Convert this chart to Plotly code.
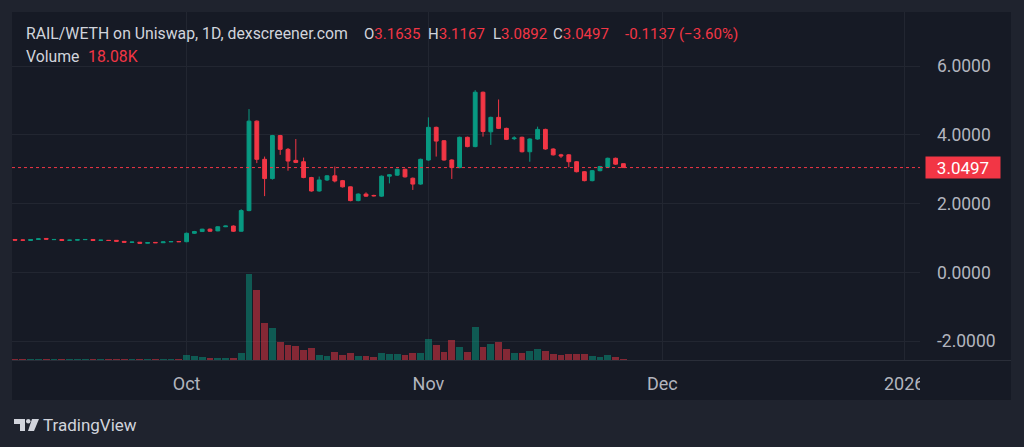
import pandas as pd
import plotly.graph_objects as go

# ---------------- data ----------------
start_date = "2025-09-09"
opens = [0.96, 0.945, 0.93, 0.96, 0.99, 0.955, 0.96, 0.935, 0.94, 0.955, 0.96, 0.935, 0.935, 0.935, 0.905,
         0.875, 0.88, 0.85, 0.875, 0.865, 0.89, 0.90, 0.895, 1.14, 1.19, 1.26, 1.21, 1.33, 1.35, 1.20,
         1.80, 4.40, 3.29, 2.73, 3.98, 3.58, 3.26, 3.22, 2.76, 2.37, 2.69, 2.81, 2.67, 2.49, 2.09,
         2.28, 2.24, 2.22, 2.80, 2.83, 3.00, 2.74, 2.57, 3.27, 4.22, 3.83, 3.27, 3.05, 3.93, 3.66,
         5.24, 4.09, 4.51, 4.19, 3.89, 3.93, 3.51, 3.88, 4.16, 3.59, 3.42, 3.42, 3.22, 2.93, 2.67,
         2.96, 3.06, 3.32, 3.1635]
highs = [0.97, 0.955, 0.97, 0.99, 1.00, 0.975, 0.97, 0.95, 0.96, 0.965, 0.97, 0.945, 0.94, 0.945, 0.91,
         0.89, 0.885, 0.88, 0.885, 0.895, 0.905, 0.91, 1.16, 1.21, 1.27, 1.28, 1.34, 1.36, 1.37, 1.84,
         4.75, 4.42, 3.37, 4.00, 4.00, 3.62, 3.88, 3.34, 2.78, 2.79, 2.83, 3.08, 2.69, 2.50, 2.30,
         2.33, 2.26, 2.82, 2.86, 3.02, 3.02, 2.76, 3.31, 4.51, 4.24, 3.85, 3.29, 3.95, 3.95, 5.30,
         5.26, 4.53, 5.03, 4.21, 3.96, 3.95, 3.90, 4.24, 4.18, 3.61, 3.45, 3.44, 3.24, 2.95, 2.98,
         3.10, 3.34, 3.34, 3.1635]
lows = [0.93, 0.93, 0.925, 0.95, 0.96, 0.95, 0.92, 0.93, 0.935, 0.945, 0.92, 0.925, 0.92, 0.90, 0.87,
        0.865, 0.84, 0.845, 0.86, 0.86, 0.885, 0.89, 0.88, 1.12, 1.18, 1.18, 1.20, 1.32, 1.18, 1.19,
        1.78, 3.18, 2.22, 2.70, 3.42, 2.96, 3.18, 2.74, 2.35, 2.35, 2.66, 2.62, 2.47, 2.07, 2.07,
        2.20, 2.21, 2.20, 2.59, 2.81, 2.76, 2.40, 2.55, 3.25, 3.37, 3.25, 2.72, 3.03, 3.64, 3.64,
        3.95, 3.71, 4.17, 3.85, 3.85, 3.49, 3.22, 3.86, 3.57, 3.40, 3.33, 3.06, 2.91, 2.65, 2.65,
        2.94, 3.04, 3.13, 3.0497]
closes = [0.94, 0.94, 0.96, 0.98, 0.97, 0.96, 0.93, 0.94, 0.955, 0.96, 0.93, 0.94, 0.93, 0.91, 0.88,
          0.885, 0.85, 0.87, 0.865, 0.89, 0.90, 0.895, 1.14, 1.19, 1.26, 1.20, 1.33, 1.35, 1.20, 1.80,
          4.40, 3.29, 2.73, 3.98, 3.58, 3.24, 3.20, 2.76, 2.37, 2.69, 2.81, 2.66, 2.49, 2.09, 2.28,
          2.22, 2.23, 2.80, 2.84, 3.00, 2.78, 2.57, 3.29, 4.22, 3.82, 3.27, 3.05, 3.93, 3.66, 5.24,
          4.10, 4.51, 4.19, 3.87, 3.91, 3.51, 3.88, 4.16, 3.59, 3.42, 3.39, 3.22, 2.93, 2.67, 2.96,
          3.08, 3.32, 3.15, 3.0497]
volumes_k = [14, 12, 15, 13, 16, 12, 14, 11, 13, 12, 15, 12, 11, 14, 13, 12, 14, 11, 13, 12, 14, 13,
             68, 50, 36, 27, 27, 27, 27, 95, 1180, 963, 502, 443, 249, 203, 194, 140, 167, 68, 59,
             108, 68, 95, 59, 50, 41, 95, 86, 77, 68, 95, 95, 294, 203, 104, 271, 185, 108, 457,
             185, 221, 249, 149, 95, 95, 122, 154, 118, 81, 68, 81, 81, 81, 50, 41, 63, 45, 18.08]

price_ticks = [-2, 0, 2, 4, 6]
price_tick_labels = ["-2.0000", "0.0000", "2.0000", "4.0000", "6.0000"]
time_ticks = ["2025-10-01", "2025-11-01", "2025-12-01", "2026-01-01"]
time_tick_labels = ["Oct", "Nov", "Dec", "2026"]

title_text = "RAIL/WETH on Uniswap, 1D, dexscreener.com"
ohlc_labels = [("O", "3.1635"), ("H", "3.1167"), ("L", "3.0892"), ("C", "3.0497")]
change_text = "-0.1137 (\u22123.60%)"
volume_label = "Volume"
volume_value = "18.08K"
last_price = 3.0497
last_price_text = "3.0497"

# ---------------- styling ----------------
UP = "#089981"
DOWN = "#f23645"
UP_VOL = "rgba(8,153,129,0.5)"
DOWN_VOL = "rgba(242,54,69,0.5)"
PANEL = "#161a25"
OUTER = "#1f232e"
GRID = "#222631"
TEXT = "#d1d4dc"
AXIS_TEXT = "#b2b5be"
FONT = "Roboto, 'Noto Sans', sans-serif"

W, H = 1024, 447
PL, PR, PT, PB = 12, 920, 12, 360  # plot area in pixels


def px_x(px):
    return (px - PL) / (PR - PL)


def px_y(py):
    return (PB - py) / (PB - PT)


dates = pd.date_range(start_date, periods=len(opens), freq="D")
vol_colors = [UP_VOL if c >= o else DOWN_VOL for o, c in zip(opens, closes)]

fig = go.Figure()

fig.add_trace(go.Bar(
    x=dates, y=volumes_k, yaxis="y2",
    marker=dict(color=vol_colors, line=dict(width=0)),
    width=86400000 * 0.86, hoverinfo="skip", showlegend=False,
))

fig.add_trace(go.Candlestick(
    x=dates, open=opens, high=highs, low=lows, close=closes,
    increasing=dict(line=dict(color=UP, width=1), fillcolor=UP),
    decreasing=dict(line=dict(color=DOWN, width=1), fillcolor=DOWN),
    whiskerwidth=0, showlegend=False, hoverinfo="skip",
))

day = pd.Timedelta(days=1)
x_left = dates[0] - day * (3 / 7.8)
x_right = dates[0] + day * ((PR - 15) / 7.8)
y_top = (272.5 - PT) / 34.4
y_bot = (272.5 - PB) / 34.4

vmax = max(volumes_k)
v_range_top = vmax * (PB - PT) / 86.0

shapes = [
    dict(type="rect", xref="paper", yref="paper", layer="below",
         x0=px_x(PL), x1=px_x(1011), y0=px_y(400), y1=px_y(PT),
         fillcolor=PANEL, line=dict(width=0)),
    dict(type="line", xref="paper", yref="paper", layer="above",
         x0=px_x(PL), x1=px_x(1011), y0=px_y(360.5), y1=px_y(360.5),
         line=dict(color="#2a2e39", width=1)),
    dict(type="line", xref="paper", yref="y", layer="above",
         x0=0, x1=1, y0=last_price, y1=last_price,
         line=dict(color=DOWN, width=1, dash="dot")),
    dict(type="rect", xref="paper", yref="paper", layer="above",
         x0=px_x(PR), x1=px_x(1011), y0=px_y(399.5), y1=px_y(361.5),
         fillcolor=PANEL, line=dict(width=0)),
]

# TradingView logo (simple glyph)
lx, ly = 14, 419
logo_paths = [
    f"M{px_x(lx)},{px_y(ly)} L{px_x(lx+11)},{px_y(ly)} L{px_x(lx+11)},{px_y(ly+12)} "
    f"L{px_x(lx+6)},{px_y(ly+12)} L{px_x(lx+6)},{px_y(ly+5)} L{px_x(lx)},{px_y(ly+5)} Z",
    f"M{px_x(lx+18)},{px_y(ly)} L{px_x(lx+25)},{px_y(ly)} L{px_x(lx+20)},{px_y(ly+12)} "
    f"L{px_x(lx+14)},{px_y(ly+12)} Z",
]
for p in logo_paths:
    shapes.append(dict(type="path", xref="paper", yref="paper", layer="above", path=p,
                       fillcolor=TEXT, line=dict(width=0)))
shapes.append(dict(type="circle", xref="paper", yref="paper", layer="above",
                   x0=px_x(lx + 12), x1=px_x(lx + 16.5), y0=px_y(ly + 4.5), y1=px_y(ly),
                   fillcolor=TEXT, line=dict(width=0)))

annotations = []


def txt(text, px, py, color=TEXT, size=15.8, xanchor="left"):
    annotations.append(dict(text=text, x=px_x(px), y=px_y(py), xref="paper", yref="paper",
                            xanchor=xanchor, yanchor="middle", showarrow=False,
                            font=dict(family=FONT, size=size, color=color)))


txt(title_text, 24, 34)
ohlc_x = [362, 426, 491, 551]
for (lab, val), xx in zip(ohlc_labels, ohlc_x):
    txt(f"{lab}<span style='color:{DOWN}'>{val}</span>", xx, 34, size=15)
txt(change_text, 623, 34, color=DOWN, size=15)
txt(volume_label, 24, 57)
txt(volume_value, 86, 57, color=DOWN)
txt("TradingView", 41, 425, color=TEXT, size=17)

annotations.append(dict(
    text=last_price_text, x=px_x(925), y=last_price, xref="paper", yref="y",
    xanchor="left", yanchor="middle", showarrow=False,
    bgcolor=DOWN, width=72, height=19, align="center",
    font=dict(family=FONT, size=17, color="#ffffff"),
))

fig.update_layout(
    width=W, height=H,
    margin=dict(l=PL, r=W - PR, t=PT, b=H - PB, pad=0),
    paper_bgcolor=OUTER, plot_bgcolor=PANEL,
    font=dict(family=FONT, color=AXIS_TEXT),
    showlegend=False, hovermode=False,
    bargap=0,
    xaxis=dict(
        type="date", range=[x_left, x_right], rangeslider=dict(visible=False),
        tickvals=time_ticks, ticktext=time_tick_labels,
        showgrid=True, gridcolor=GRID, gridwidth=1,
        zeroline=False, showline=False, ticks="", ticklabelstandoff=11,
        tickfont=dict(family=FONT, size=18, color=AXIS_TEXT),
        fixedrange=True,
    ),
    yaxis=dict(
        side="right", range=[y_bot, y_top],
        tickvals=price_ticks, ticktext=price_tick_labels,
        showgrid=True, gridcolor=GRID, gridwidth=1,
        zeroline=False, showline=False, ticks="", ticklabelstandoff=16,
        tickfont=dict(family=FONT, size=17.5, color=AXIS_TEXT),
        fixedrange=True,
    ),
    yaxis2=dict(
        overlaying="y", range=[0, v_range_top], visible=False, fixedrange=True,
    ),
    shapes=shapes,
    annotations=annotations,
)

fig.write_html(
    "out.html",
    config={"displayModeBar": False, "staticPlot": True},
    post_script="document.body.style.margin='0';document.body.style.background='" + OUTER + "';",
)
